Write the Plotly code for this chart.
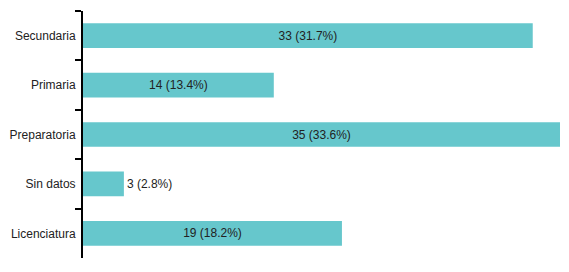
import plotly.graph_objects as go

categories = ["Secundaria", "Primaria", "Preparatoria", "Sin datos", "Licenciatura"]
values = [33, 14, 35, 3, 19]
percents = [31.7, 13.4, 33.6, 2.8, 18.2]

labels = [f"{v} ({p}%)" for v, p in zip(values, percents)]
positions = ["inside" if v > 5 else "outside" for v in values]

fig = go.Figure(go.Bar(
    x=values,
    y=categories,
    orientation="h",
    text=labels,
    textposition=positions,
    insidetextanchor="middle",
    textfont=dict(family="Liberation Sans, Arial, sans-serif", size=12, color="#222222"),
    insidetextfont=dict(color="#222222"),
    outsidetextfont=dict(color="#222222"),
    marker=dict(color="#66c7cc", line=dict(width=0)),
    cliponaxis=False,
    hoverinfo="skip",
))

# page body has an 8px margin, so the figure is shrunk to compensate
fig.update_layout(
    width=561, height=264,
    margin=dict(l=75, r=9, t=3, b=14, autoexpand=False),
    paper_bgcolor="white", plot_bgcolor="white",
    bargap=0.5,
    showlegend=False,
    font=dict(family="Liberation Sans, Arial, sans-serif", size=12, color="#222222"),
    xaxis=dict(range=[0, 35], visible=False, fixedrange=True, automargin=False),
    yaxis=dict(
        categoryorder="array", categoryarray=categories, autorange="reversed",
        automargin=False,
        showline=True, linecolor="black", linewidth=2,
        ticks="outside", tickson="boundaries", ticklen=6, tickwidth=2, tickcolor="black",
        ticklabelstandoff=3,
        showgrid=False, zeroline=False,
        tickfont=dict(family="Liberation Sans, Arial, sans-serif", size=12, color="#222222"),
    ),
)

fig.write_html("out.html")
